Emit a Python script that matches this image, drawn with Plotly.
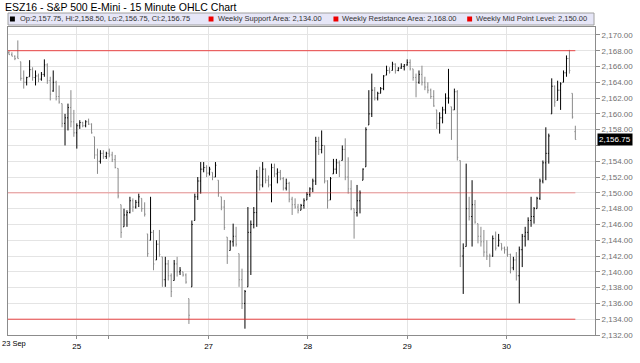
import plotly.graph_objects as go

# ---- data (15-minute bars, index = bar number) ----
opens = [
    2167.75, 2167.5, 2167.3, 2167.2, 2166.6, 2164.5, 2164.0, 2164.7, 2165.6, 2164.6,
    2164.8, 2164.4, 2165.0, 2166.2, 2164.2, 2162.9, 2164.0, 2162.2, 2161.3, 2158.8,
    2159.5, 2160.8, 2159.0, 2157.6, 2158.5, 2158.9, 2158.5, 2159.0, 2158.7, 2157.1,
    2154.8, 2154.0, 2155.0, 2154.6, 2155.0, 2154.8, 2154.2, 2153.1, 2148.5, 2145.7,
    2147.2, 2147.5, 2149.0, 2148.2, 2148.8, 2149.3, 2148.0, 2144.8, 2144.0, 2145.0,
    2141.5, 2143.5, 2141.9, 2139.0, 2141.0, 2139.5, 2138.9, 2141.0, 2140.0, 2140.0,
    2139.6, 2136.6, 2138.1, 2146.5, 2149.5, 2151.5, 2153.0, 2153.2, 2152.5, 2152.6,
    2152.0, 2151.6, 2149.5, 2148.2, 2144.4, 2142.7, 2143.8, 2144.5, 2142.3, 2139.0,
    2136.0, 2138.1, 2145.0, 2146.0, 2147.5, 2152.0, 2151.0, 2153.0, 2151.6, 2151.0,
    2153.2, 2152.4, 2152.6, 2151.8, 2150.6, 2151.2, 2149.2, 2148.5, 2148.2, 2147.8,
    2148.4, 2149.1, 2149.8, 2150.5, 2151.5, 2156.5, 2155.5, 2156.0, 2151.5, 2149.1,
    2152.4, 2153.0, 2153.8, 2154.1, 2155.5, 2152.0, 2150.5, 2148.0, 2147.5, 2149.0,
    2151.6, 2153.3, 2158.6, 2160.0, 2163.0, 2162.0, 2162.6, 2163.2, 2164.9, 2165.5,
    2165.5, 2166.3, 2165.5, 2165.8, 2166.0, 2166.2, 2166.5, 2165.7, 2164.6, 2164.0,
    2165.0, 2164.0, 2163.4, 2163.0, 2162.2, 2160.5, 2158.8, 2159.5, 2160.5, 2162.0,
    2160.9, 2160.5, 2162.8, 2154.1, 2142.0, 2143.2, 2148.0, 2147.0, 2148.5, 2146.1,
    2144.5, 2143.8, 2142.5, 2142.0, 2142.0, 2144.2, 2143.3, 2143.6, 2143.0, 2142.8,
    2142.2, 2140.5, 2141.5, 2139.5, 2142.8, 2144.5, 2145.0, 2146.5, 2147.0, 2148.0,
    2149.3, 2151.5, 2153.8, 2155.0, 2160.0, 2163.5, 2161.7, 2163.0, 2164.0, 2165.2,
    2167.0, 2162.6, 2157.75,
]
highs = [
    2168.0, 2167.8, 2167.4, 2169.3, 2166.6, 2165.5, 2164.7, 2166.8, 2165.9, 2165.5,
    2165.1, 2165.3, 2166.9, 2166.4, 2164.7, 2165.5, 2164.2, 2163.6, 2161.3, 2160.0,
    2161.3, 2163.0, 2160.5, 2158.8, 2159.2, 2159.0, 2159.2, 2159.4, 2158.8, 2157.1,
    2155.6, 2155.4, 2155.4, 2155.2, 2155.6, 2155.2, 2154.8, 2153.1, 2148.5, 2148.0,
    2147.8, 2149.5, 2149.3, 2149.1, 2149.9, 2149.3, 2148.8, 2144.8, 2149.5, 2145.3,
    2144.0, 2145.3, 2141.9, 2141.9, 2141.5, 2139.8, 2141.5, 2141.9, 2140.6, 2140.0,
    2139.8, 2136.6, 2146.5, 2149.9, 2152.0, 2153.9, 2153.9, 2153.5, 2153.3, 2152.6,
    2153.9, 2151.6, 2149.5, 2149.1, 2144.4, 2144.0, 2146.1, 2145.7, 2142.3, 2140.4,
    2137.7, 2148.2, 2146.5, 2148.2, 2152.9, 2153.3, 2153.9, 2153.1, 2152.2, 2153.7,
    2153.7, 2153.1, 2152.9, 2152.0, 2151.8, 2151.4, 2149.5, 2149.3, 2148.6, 2148.6,
    2149.3, 2150.1, 2150.7, 2151.8, 2157.1, 2157.1, 2157.9, 2156.0, 2151.6, 2152.0,
    2154.3, 2154.3, 2154.1, 2156.0, 2156.9, 2154.5, 2151.6, 2148.0, 2151.0, 2150.3,
    2153.1, 2158.3, 2163.0, 2165.1, 2163.4, 2162.8, 2163.4, 2164.9, 2166.1, 2165.9,
    2166.6, 2166.4, 2165.9, 2166.4, 2166.3, 2166.9, 2166.9, 2165.7, 2165.1, 2165.5,
    2166.1, 2164.7, 2164.0, 2163.2, 2163.0, 2160.5, 2160.2, 2160.9, 2162.6, 2165.7,
    2160.9, 2163.2, 2163.0, 2154.1, 2143.6, 2153.7, 2149.5, 2151.6, 2149.1, 2146.1,
    2145.7, 2145.3, 2144.0, 2142.3, 2144.6, 2145.1, 2144.8, 2143.6, 2143.2, 2143.2,
    2142.3, 2141.9, 2142.5, 2143.2, 2144.8, 2145.7, 2146.9, 2149.5, 2148.2, 2149.5,
    2151.8, 2154.1, 2158.3, 2157.5, 2164.5, 2163.6, 2164.2, 2164.0, 2165.5, 2167.4,
    2168.1, 2162.6, 2158.5,
]
lows = [
    2167.5, 2167.3, 2166.8, 2167.0, 2164.2, 2163.2, 2163.6, 2164.7, 2164.2, 2163.6,
    2164.0, 2164.2, 2164.7, 2163.8, 2161.7, 2162.8, 2161.7, 2161.3, 2158.3, 2156.0,
    2157.9, 2158.3, 2157.1, 2155.6, 2158.1, 2158.3, 2158.3, 2158.6, 2157.5, 2154.3,
    2152.4, 2153.7, 2154.3, 2154.3, 2154.5, 2153.9, 2153.1, 2149.3, 2144.3, 2145.7,
    2145.7, 2147.4, 2147.6, 2148.0, 2148.2, 2147.6, 2147.0, 2141.9, 2144.0, 2140.2,
    2141.5, 2141.9, 2138.1, 2138.1, 2138.9, 2136.8, 2138.9, 2139.4, 2139.6, 2139.4,
    2138.5, 2133.4, 2138.1, 2146.5, 2149.1, 2149.9, 2152.6, 2152.0, 2152.2, 2151.6,
    2152.0, 2149.5, 2147.8, 2145.3, 2141.0, 2142.7, 2143.2, 2143.2, 2138.1, 2135.3,
    2132.8, 2138.1, 2139.6, 2145.5, 2145.7, 2150.3, 2150.7, 2151.2, 2150.7, 2148.8,
    2152.0, 2151.2, 2151.6, 2150.3, 2150.3, 2148.8, 2147.2, 2148.0, 2147.4, 2147.8,
    2148.0, 2149.1, 2149.5, 2150.1, 2151.0, 2154.8, 2155.0, 2151.2, 2148.0, 2149.1,
    2152.4, 2152.4, 2152.0, 2154.1, 2151.6, 2149.9, 2147.8, 2144.2, 2147.0, 2147.4,
    2151.6, 2153.3, 2158.6, 2159.6, 2161.7, 2161.7, 2162.6, 2163.0, 2164.9, 2165.1,
    2165.5, 2165.1, 2165.4, 2165.7, 2165.5, 2166.1, 2165.5, 2164.2, 2162.1, 2163.8,
    2163.6, 2163.0, 2162.6, 2161.9, 2160.9, 2158.1, 2157.5, 2158.8, 2160.0, 2161.3,
    2156.7, 2160.5, 2154.1, 2140.6, 2137.2, 2143.2, 2146.5, 2143.2, 2146.1, 2143.6,
    2143.2, 2141.9, 2141.5, 2140.6, 2141.9, 2142.7, 2143.2, 2142.7, 2142.3, 2141.9,
    2139.8, 2140.2, 2138.9, 2136.0, 2140.6, 2143.2, 2144.0, 2145.7, 2146.1, 2148.0,
    2149.1, 2151.2, 2151.6, 2153.7, 2160.0, 2160.9, 2161.7, 2160.5, 2164.0, 2164.7,
    2165.1, 2159.4, 2156.75,
]
closes = [
    2167.5, 2167.3, 2167.0, 2167.0, 2164.5, 2164.0, 2164.6, 2165.6, 2164.6, 2164.8,
    2164.4, 2165.0, 2166.2, 2164.2, 2162.5, 2164.0, 2162.2, 2161.5, 2158.8, 2159.5,
    2160.8, 2159.0, 2157.6, 2158.5, 2158.9, 2158.5, 2159.0, 2158.7, 2157.6, 2154.8,
    2154.0, 2155.0, 2154.6, 2155.0, 2154.8, 2154.2, 2153.2, 2149.6, 2145.0, 2147.2,
    2147.5, 2149.0, 2148.2, 2148.8, 2149.5, 2148.0, 2147.3, 2142.3, 2145.0, 2141.0,
    2143.5, 2142.2, 2139.0, 2141.0, 2139.5, 2137.5, 2141.0, 2140.0, 2140.2, 2139.6,
    2138.7, 2134.5, 2146.0, 2149.5, 2151.5, 2153.0, 2153.2, 2152.5, 2153.0, 2152.0,
    2153.5, 2150.0, 2148.2, 2145.6, 2142.0, 2143.8, 2144.5, 2143.5, 2139.0, 2136.0,
    2137.5, 2145.0, 2146.0, 2147.5, 2152.0, 2151.0, 2153.0, 2151.6, 2151.0, 2153.2,
    2152.4, 2152.6, 2151.8, 2150.6, 2151.2, 2149.2, 2148.5, 2148.2, 2147.8, 2148.4,
    2149.0, 2149.8, 2150.5, 2151.5, 2156.5, 2155.5, 2156.0, 2151.5, 2149.0, 2151.8,
    2153.0, 2153.8, 2153.5, 2155.5, 2152.0, 2150.5, 2148.0, 2147.5, 2149.0, 2150.0,
    2153.0, 2158.0, 2160.0, 2163.0, 2162.0, 2162.6, 2163.2, 2164.8, 2165.5, 2165.3,
    2166.3, 2165.5, 2165.8, 2166.0, 2166.2, 2166.5, 2165.7, 2164.6, 2164.0, 2165.0,
    2164.0, 2163.4, 2163.0, 2162.2, 2161.0, 2158.8, 2159.5, 2160.5, 2162.0, 2162.0,
    2160.5, 2162.8, 2154.5, 2142.0, 2143.0, 2148.0, 2147.0, 2148.5, 2146.3, 2144.5,
    2143.8, 2142.5, 2142.0, 2142.0, 2144.2, 2143.0, 2144.0, 2143.0, 2142.8, 2142.2,
    2140.5, 2141.5, 2139.5, 2142.8, 2144.5, 2145.0, 2146.5, 2147.0, 2148.0, 2149.3,
    2151.5, 2153.8, 2155.0, 2157.2, 2163.5, 2161.5, 2163.0, 2163.8, 2165.2, 2167.0,
    2165.5, 2159.6, 2156.75,
]
bar_index = list(range(len(closes)))

# day boundaries (bar positions) and labels
day_ticks = [23, 33.67, 67.67, 101.33, 135, 168.67]
day_labels = ["25", "", "27", "28", "29", "30"]
first_day_label = "23 Sep"

# weekly levels
level_names = ["Weekly Support Area", "Weekly Resistance Area", "Weekly Mid Point Level"]
level_values = [2134.00, 2168.00, 2150.00]
level_colors = ["rgba(235,40,40,0.85)", "rgba(235,40,40,0.85)", "rgba(240,60,60,0.5)"]

y_ticks = list(range(2132, 2171, 2))
last_price = 2156.75
title_text = "ESZ16 - S&P 500 E-Mini - 15 Minute OHLC Chart"

# ---- figure ----
W, H = 640, 363
ML, MR, MT, MB = 7, 36, 27, 28
pw, ph = W - ML - MR, H - MT - MB


def px_x(p):
    return (p - ML) / pw


def px_y(p):
    return (H - MB - p) / ph


fig = go.Figure()
fig.add_trace(go.Ohlc(
    x=bar_index, open=opens, high=highs, low=lows, close=closes,
    increasing=dict(line=dict(color="#000000", width=1)),
    decreasing=dict(line=dict(color="#8a8a8a", width=1)),
    tickwidth=0.3, showlegend=False, hoverinfo="skip",
))

xr = [-0.33, 198.67]
shapes = []
for v, c in zip(level_values, level_colors):
    shapes.append(dict(type="line", xref="x", yref="y", x0=xr[0], x1=bar_index[-1],
                       y0=v, y1=v, line=dict(color=c, width=1), layer="above"))

# legend strip
shapes.append(dict(type="rect", xref="paper", yref="paper",
                   x0=0, x1=px_x(603), y0=px_y(25), y1=px_y(13),
                   fillcolor="#e6e6f7", line=dict(color="#a0a0a0", width=1)))
sq_x = [9, 211, 338, 474]
sq_col = ["#000000", "#ee0000", "#ee0000", "#ee0000"]
for sx, sc in zip(sq_x, sq_col):
    shapes.append(dict(type="rect", xref="paper", yref="paper",
                       x0=px_x(sx), x1=px_x(sx + 5), y0=px_y(21.5), y1=px_y(16.5),
                       fillcolor=sc, line=dict(width=0)))

ohlc_text = "Op:{:,.2f}, Hi:{:,.2f}, Lo:{:,.2f}, Cl:{:,.2f}".format(
    opens[-1], highs[-1], lows[-1], closes[-1])
leg_texts = [ohlc_text] + ["{}: {:,.2f}".format(n, v) for n, v in zip(level_names, level_values)]
txt_x = [17, 219, 345, 481]

annotations = []
for tx, tt in zip(txt_x, leg_texts):
    annotations.append(dict(xref="paper", yref="paper", x=px_x(tx), y=px_y(19),
                            text=tt, showarrow=False, xanchor="left", yanchor="middle",
                            font=dict(family="Liberation Sans", size=7.5, color="#333333")))
annotations.append(dict(xref="paper", yref="paper", x=px_x(2), y=px_y(7),
                        text=title_text, showarrow=False, xanchor="left", yanchor="middle",
                        font=dict(family="Liberation Sans", size=10.5, color="#000000")))
annotations.append(dict(xref="paper", yref="paper", x=px_x(0), y=px_y(343),
                        text=first_day_label, showarrow=False, xanchor="left", yanchor="middle",
                        borderpad=0,
                        font=dict(family="Liberation Sans", size=7.5, color="#000000")))
annotations.append(dict(xref="paper", yref="y", x=px_x(606), y=last_price,
                        text="{:,.2f}".format(last_price), showarrow=False,
                        xanchor="left", yanchor="middle", bgcolor="#000000", borderpad=1,
                        font=dict(family="Liberation Sans", size=8, color="#ffffff")))

fig.update_layout(
    width=W, height=H,
    margin=dict(l=ML, r=MR, t=MT, b=MB),
    paper_bgcolor="#ffffff", plot_bgcolor="#ffffff",
    shapes=shapes, annotations=annotations,
    showlegend=False,
    xaxis=dict(range=xr, tickmode="array", tickvals=day_ticks, ticktext=day_labels,
               showgrid=True, gridcolor="#e4e4e4", gridwidth=1, zeroline=False,
               showline=True, linecolor="#8c8c8c", linewidth=1, mirror=True,
               ticks="outside", ticklen=3, tickcolor="#8c8c8c",
               rangeslider=dict(visible=False),
               tickfont=dict(family="Liberation Sans", size=8, color="#000000")),
    yaxis=dict(range=[2132, 2171], side="right", tickmode="array", tickvals=y_ticks,
               ticktext=["" if v == 2156 else "{:,.2f}".format(v) for v in y_ticks],
               showgrid=True, gridcolor="#e4e4e4", gridwidth=1, zeroline=False,
               showline=True, linecolor="#8c8c8c", linewidth=1, mirror=True,
               ticks="outside", ticklen=4, tickcolor="#8c8c8c",
               tickfont=dict(family="Liberation Sans", size=8, color="#707070")),
)

fig.write_html("out.html", config={"displayModeBar": False})
